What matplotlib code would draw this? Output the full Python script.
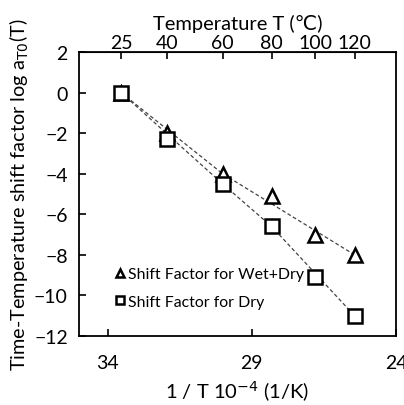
import numpy as np
import matplotlib
matplotlib.use("Agg")
import matplotlib.pyplot as plt

plt.rcParams['font.family'] = ['Lato', 'DejaVu Sans']

# temperatures in deg C and shift factors
temps = [25, 40, 60, 80, 100, 120]
wet_dry = [0.0, -2.0, -4.0, -5.1, -7.0, -8.0]
dry = [0.0, -2.3, -4.5, -6.6, -9.1, -11.0]

# dashed trend segments (breakpoints in deg C)
wet_line_t = [25, 60, 120]
wet_line_v = [0.0, -4.0, -8.0]
dry_line_t = [25, 60, 80, 120]
dry_line_v = [0.0, -4.5, -6.6, -11.0]

top_ticks = [25, 40, 60, 80, 100, 120]
bottom_ticks = [34, 29, 24]


def inv_t(t):
    # deg C -> 1/T in 1e-4 1/K
    return 1e4 / (np.asarray(t, dtype=float) + 273.15)


def to_celsius(x):
    return 1e4 / np.asarray(x, dtype=float) - 273.15


fig = plt.figure(figsize=(4.04, 4.06), dpi=100)
ax = fig.add_axes([0.1955, 0.170, 0.7845, 0.6995])

ax.plot(inv_t(wet_line_t), wet_line_v, ls=(0, (3, 2)), color='#444444', lw=0.9)
ax.plot(inv_t(dry_line_t), dry_line_v, ls=(0, (3, 2)), color='#444444', lw=0.9)

ax.plot(inv_t(temps), wet_dry, ls='none', marker='^', ms=10, mfc='white',
        mec='black', mew=1.8, label='Shift Factor for Wet+Dry')
ax.plot(inv_t(temps), dry, ls='none', marker='s', ms=9.5, mfc='white',
        mec='black', mew=1.8, label='Shift Factor for Dry')

ax.set_xlim(35, 24)
ax.set_ylim(-12, 2)
ax.set_xticks(bottom_ticks)
ax.set_yticks(np.arange(-12, 3, 2))
ax.tick_params(axis='both', direction='in', length=5, width=1.2, labelsize=14)
ax.tick_params(axis='x', pad=13)
ax.tick_params(axis='y', pad=8)
for s in ax.spines.values():
    s.set_linewidth(1.3)

ax.set_xlabel('1 / T 10$^{-4}$ (1/K)', fontsize=14.5, labelpad=5)
ax.set_ylabel('Time-Temperature shift factor log a$_{\\mathrm{T0}}$(T)', fontsize=14.3, labelpad=2)

sec = ax.secondary_xaxis('top', functions=(to_celsius, inv_t))
sec.set_xticks(top_ticks)
sec.tick_params(direction='in', length=5, width=1.2, labelsize=14, pad=1)
sec.set_xlabel('Temperature T (\u2103)', fontsize=14.5, labelpad=3)

leg = ax.legend(loc='lower left', bbox_to_anchor=(0.07, 0.045), frameon=False,
                fontsize=11.4, handlelength=0.6, handletextpad=0.2,
                labelspacing=0.85, markerscale=0.6)

fig.savefig('out.png', dpi=100)
